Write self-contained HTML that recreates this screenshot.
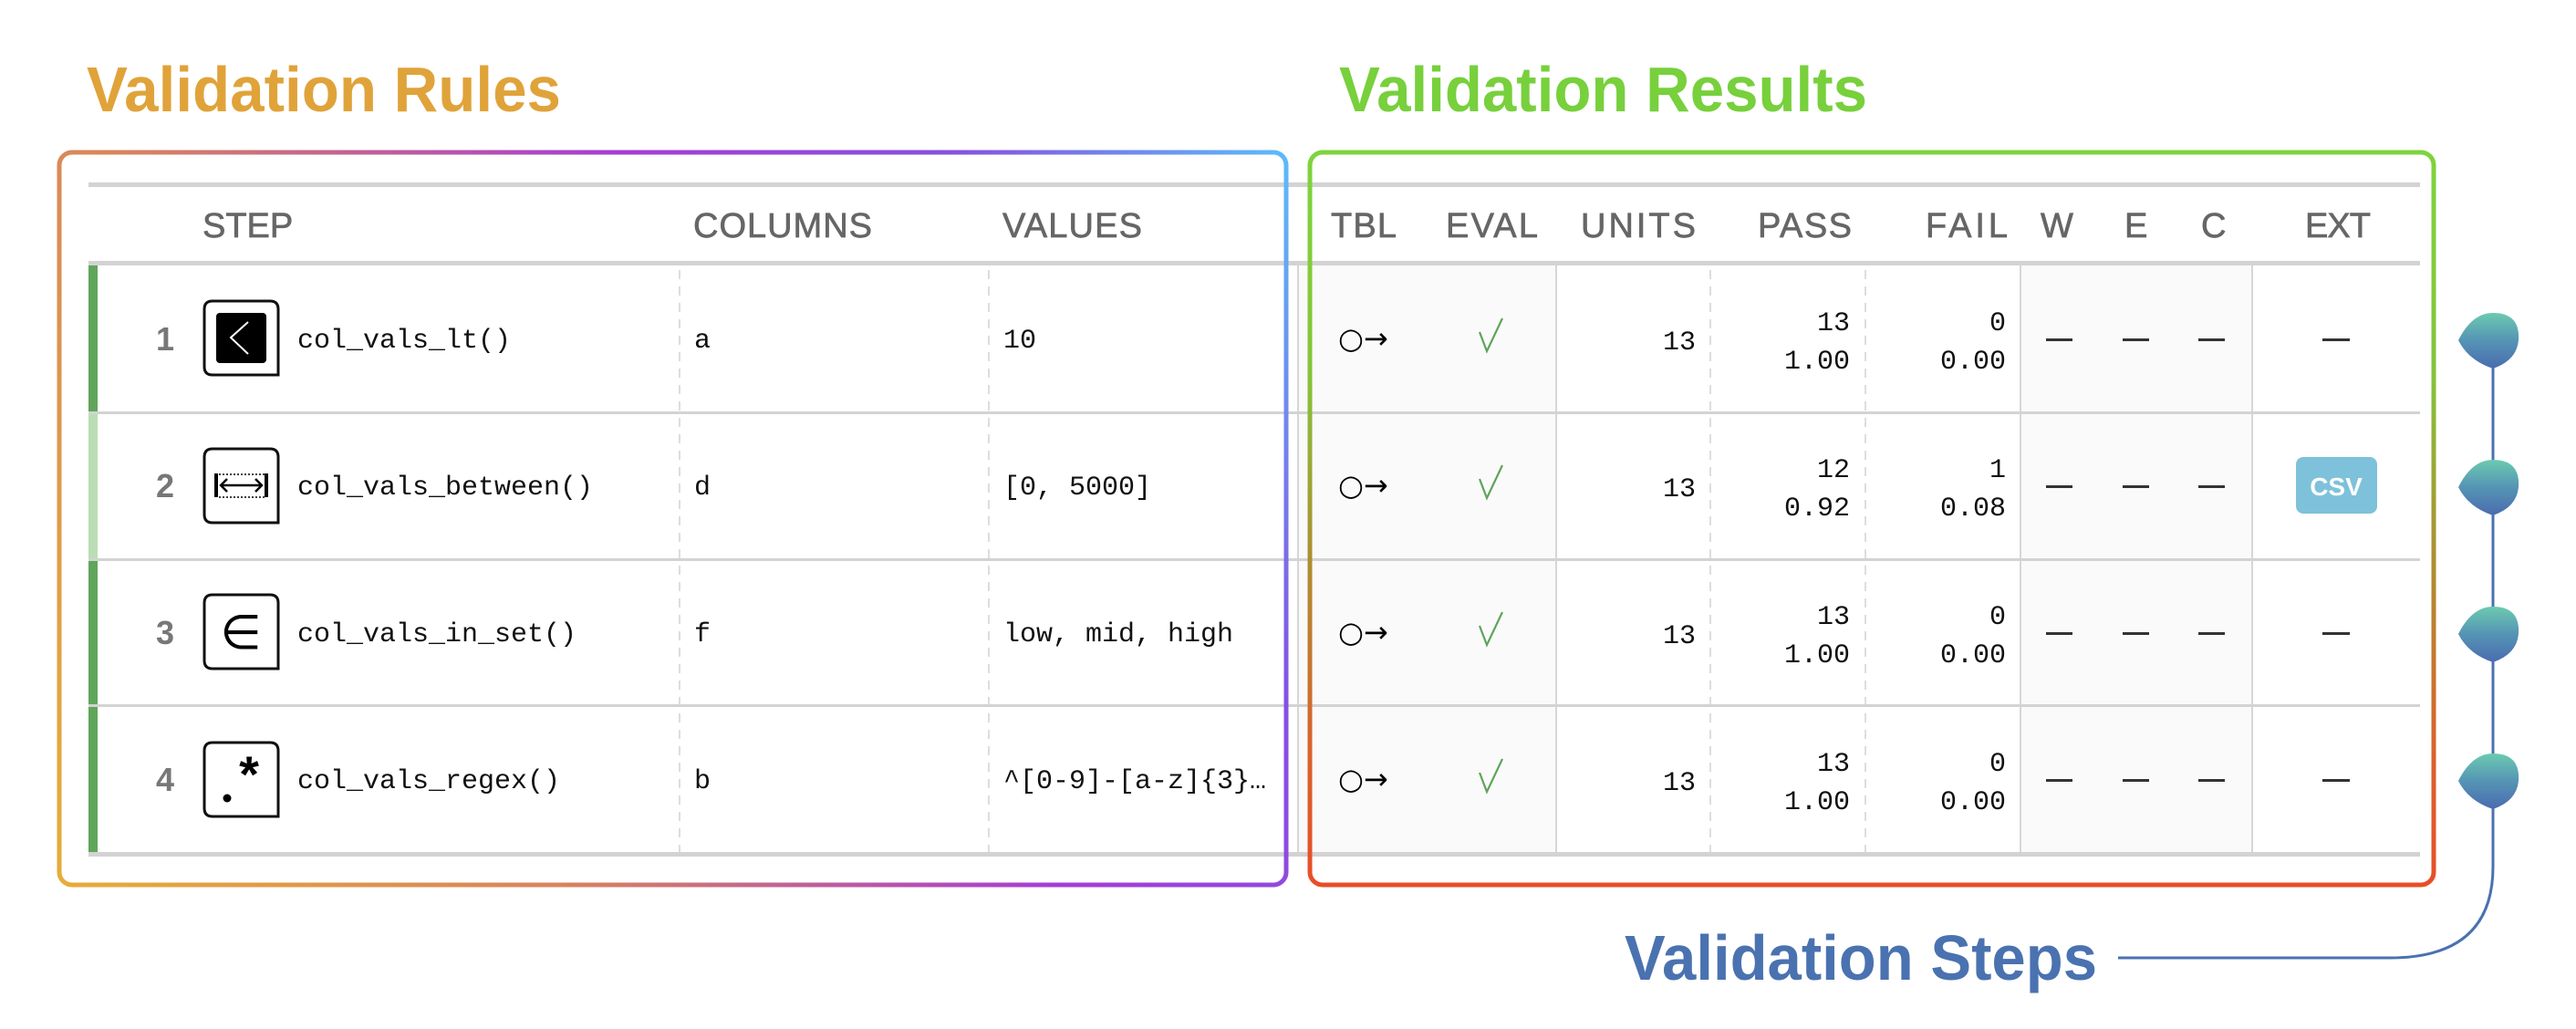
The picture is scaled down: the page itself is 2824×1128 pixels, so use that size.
<!DOCTYPE html>
<html><head><meta charset="utf-8"><style>html,body{margin:0;padding:0;background:#fff}svg{display:block}</style></head>
<body>
<svg xmlns="http://www.w3.org/2000/svg" width="2824" height="1128" viewBox="0 0 2824 1128">
<defs>
<linearGradient id="gr" gradientUnits="userSpaceOnUse" x1="65" y1="971" x2="1410" y2="165">
<stop offset="0" stop-color="#E8AC38"/><stop offset="0.3" stop-color="#D8845C"/><stop offset="0.6" stop-color="#A63CD6"/><stop offset="0.8" stop-color="#8650E2"/><stop offset="1" stop-color="#5CBCF8"/>
</linearGradient>
<linearGradient id="gg" x1="0" y1="0" x2="0" y2="1">
<stop offset="0" stop-color="#7ED43C"/><stop offset="0.3" stop-color="#84C43A"/><stop offset="0.55" stop-color="#AC9032"/><stop offset="0.8" stop-color="#D8642C"/><stop offset="1" stop-color="#E84E28"/>
</linearGradient>
<linearGradient id="gm" x1="0" y1="0" x2="0" y2="1">
<stop offset="0" stop-color="#6CCAB0"/><stop offset="0.5" stop-color="#5594B4"/><stop offset="1" stop-color="#4A6CB0"/>
</linearGradient>
</defs>

<!-- titles -->
<g font-family="Liberation Sans, sans-serif" font-weight="bold" font-size="70">
<text x="95" y="122" fill="#E0A33A" textLength="520" lengthAdjust="spacingAndGlyphs">Validation Rules</text>
<text x="1468" y="122" fill="#77D03C" textLength="579" lengthAdjust="spacingAndGlyphs">Validation Results</text>
<text x="1781" y="1074" fill="#4A72B0" textLength="518" lengthAdjust="spacingAndGlyphs">Validation Steps</text>
</g>

<!-- light backgrounds -->
<rect x="1423" y="291" width="283" height="643" fill="#FAFAFA"/>
<rect x="2215" y="291" width="254" height="643" fill="#FAFAFA"/>

<!-- vertical separators -->
<g stroke="#DDDDDD" stroke-width="2" stroke-dasharray="10,8">
<line x1="745" y1="296" x2="745" y2="934"/>
<line x1="1084" y1="296" x2="1084" y2="934"/>
<line x1="1875" y1="296" x2="1875" y2="934"/>
<line x1="2045" y1="296" x2="2045" y2="934"/>
</g>
<g stroke="#D6D6D6" stroke-width="2">
<line x1="1423" y1="291" x2="1423" y2="934"/>
<line x1="1706" y1="291" x2="1706" y2="934"/>
<line x1="2215" y1="291" x2="2215" y2="934"/>
<line x1="2469" y1="291" x2="2469" y2="934"/>
</g>

<!-- horizontal lines -->
<rect x="97" y="200" width="2556" height="5" fill="#D3D3D3"/>
<rect x="97" y="286" width="2556" height="5" fill="#D3D3D3"/>
<rect x="97" y="451" width="2556" height="3" fill="#D3D3D3"/>
<rect x="97" y="612" width="2556" height="3" fill="#D3D3D3"/>
<rect x="97" y="772" width="2556" height="3" fill="#D3D3D3"/>
<rect x="97" y="934" width="2556" height="5" fill="#D3D3D3"/>

<!-- left status bars -->
<rect x="97" y="291" width="10" height="160" fill="#60A65A"/>
<rect x="97" y="454" width="10" height="158" fill="#BADDB5"/>
<rect x="97" y="615" width="10" height="157" fill="#60A65A"/>
<rect x="97" y="775" width="10" height="159" fill="#60A65A"/>

<!-- headers -->
<g font-family="Liberation Sans, sans-serif" font-size="38" fill="#666" stroke="#666" stroke-width="0.7">
<text x="222" y="260">STEP</text>
<text x="760" y="260" textLength="196">COLUMNS</text>
<text x="1099" y="260" textLength="153">VALUES</text>
<text x="1459" y="260" textLength="72">TBL</text>
<text x="1585" y="260" textLength="101">EVAL</text>
<text x="1733" y="260" textLength="126">UNITS</text>
<text x="1927" y="260" textLength="103">PASS</text>
<text x="2111" y="260" textLength="90">FAIL</text>
<text x="2237" y="260">W</text>
<text x="2329" y="260">E</text>
<text x="2413" y="260">C</text>
<text x="2527" y="260" textLength="72">EXT</text>
</g>

<!-- step numbers -->
<g font-family="Liberation Sans, sans-serif" font-size="36" font-weight="bold" fill="#777" text-anchor="middle">
<text x="181" y="384">1</text>
<text x="181" y="545">2</text>
<text x="181" y="706">3</text>
<text x="181" y="867">4</text>
</g>

<!-- icons -->
<g fill="#fff" stroke="#111" stroke-width="3">
<path d="M233,330 H296 Q305,330 305,339 V411 H233 Q224,411 224,402 V339 Q224,330 233,330 Z"/>
<path d="M233,492 H296 Q305,492 305,501 V573 H233 Q224,573 224,564 V501 Q224,492 233,492 Z"/>
<path d="M233,652 H296 Q305,652 305,661 V733 H233 Q224,733 224,724 V661 Q224,652 233,652 Z"/>
<path d="M233,814 H296 Q305,814 305,823 V895 H233 Q224,895 224,886 V823 Q224,814 233,814 Z"/>
</g>
<rect x="237" y="343" width="55" height="55" rx="4" fill="#000"/>
<polyline points="272,353 253,370 272,388" fill="none" stroke="#fff" stroke-width="2"/>
<g stroke="#000">
<line x1="237" y1="519" x2="237" y2="545" stroke-width="4"/>
<line x1="292" y1="519" x2="292" y2="545" stroke-width="4"/>
<line x1="240" y1="520" x2="290" y2="520" stroke-width="1.5" stroke-dasharray="2,2"/>
<line x1="240" y1="545" x2="290" y2="545" stroke-width="1.5" stroke-dasharray="2,2"/>
<line x1="242" y1="532" x2="287" y2="532" stroke-width="2.5"/>
<polyline points="249,525 242,532 249,539" fill="none" stroke-width="2.5"/>
<polyline points="280,525 287,532 280,539" fill="none" stroke-width="2.5"/>
</g>
<text x="264" y="711" font-family="DejaVu Sans, sans-serif" font-size="52" text-anchor="middle" fill="#000">∈</text>
<text x="273" y="868" font-family="Liberation Sans, sans-serif" font-size="56" font-weight="bold" text-anchor="middle" fill="#000">*</text>
<circle cx="249" cy="875" r="4.5" fill="#000"/>

<!-- mono text -->
<g font-family="Liberation Mono, monospace" font-size="30" fill="#111">
<text x="326" y="381">col_vals_lt()</text>
<text x="326" y="542">col_vals_between()</text>
<text x="326" y="703">col_vals_in_set()</text>
<text x="326" y="864">col_vals_regex()</text>
<text x="761" y="381">a</text>
<text x="761" y="542">d</text>
<text x="761" y="703">f</text>
<text x="761" y="864">b</text>
<text x="1100" y="381">10</text>
<text x="1100" y="542">[0, 5000]</text>
<text x="1100" y="703">low, mid, high</text>
<text x="1100" y="864">^[0-9]-[a-z]{3}…</text>
</g>

<!-- results -->
<g font-family="DejaVu Sans, sans-serif" font-size="32" fill="#000">
<text x="1467" y="382">○→</text>
<text x="1467" y="543">○→</text>
<text x="1467" y="704">○→</text>
<text x="1467" y="865">○→</text>
</g>
<g fill="none" stroke="#5FA45A" stroke-width="2.2">
<polyline points="1622,364 1630,385 1647,349"/>
<polyline points="1622,525 1630,546 1647,510"/>
<polyline points="1622,686 1630,707 1647,671"/>
<polyline points="1622,847 1630,868 1647,832"/>
</g>
<g font-family="Liberation Mono, monospace" font-size="30" fill="#111" text-anchor="end">
<text x="1859" y="383">13</text>
<text x="1859" y="544">13</text>
<text x="1859" y="705">13</text>
<text x="1859" y="866">13</text>
<text x="2028" y="362">13</text><text x="2028" y="404">1.00</text>
<text x="2028" y="523">12</text><text x="2028" y="565">0.92</text>
<text x="2028" y="684">13</text><text x="2028" y="726">1.00</text>
<text x="2028" y="845">13</text><text x="2028" y="887">1.00</text>
<text x="2199" y="362">0</text><text x="2199" y="404">0.00</text>
<text x="2199" y="523">1</text><text x="2199" y="565">0.08</text>
<text x="2199" y="684">0</text><text x="2199" y="726">0.00</text>
<text x="2199" y="845">0</text><text x="2199" y="887">0.00</text>
</g>
<g fill="#333">
<rect x="2243" y="371" width="29" height="3"/><rect x="2327" y="371" width="29" height="3"/><rect x="2410" y="371" width="29" height="3"/><rect x="2546" y="371" width="30" height="3"/>
<rect x="2243" y="532" width="29" height="3"/><rect x="2327" y="532" width="29" height="3"/><rect x="2410" y="532" width="29" height="3"/>
<rect x="2243" y="693" width="29" height="3"/><rect x="2327" y="693" width="29" height="3"/><rect x="2410" y="693" width="29" height="3"/><rect x="2546" y="693" width="30" height="3"/>
<rect x="2243" y="854" width="29" height="3"/><rect x="2327" y="854" width="29" height="3"/><rect x="2410" y="854" width="29" height="3"/><rect x="2546" y="854" width="30" height="3"/>
</g>
<rect x="2517" y="501" width="89" height="62" rx="8" fill="#7EC1DB"/>
<text x="2561" y="543" font-family="Liberation Sans, sans-serif" font-weight="bold" font-size="28" fill="#fff" text-anchor="middle">CSV</text>

<!-- boxes -->
<rect x="65" y="167" width="1345" height="803" rx="14" fill="none" stroke="url(#gr)" stroke-width="5"/>
<rect x="1436" y="167" width="1232" height="803" rx="14" fill="none" stroke="url(#gg)" stroke-width="5"/>

<!-- step connector -->
<path d="M2733,373 V950 Q2733,1050 2620,1050 H2322" fill="none" stroke="#4A72B0" stroke-width="3"/>
<g fill="url(#gm)">
<path d="M2695,373 Q2710,343 2733,343 Q2763,343 2761,373 Q2759,395 2733,404 Q2706,395 2695,373 Z"/>
<path d="M2695,534 Q2710,504 2733,504 Q2763,504 2761,534 Q2759,556 2733,565 Q2706,556 2695,534 Z"/>
<path d="M2695,695 Q2710,665 2733,665 Q2763,665 2761,695 Q2759,717 2733,726 Q2706,717 2695,695 Z"/>
<path d="M2695,856 Q2710,826 2733,826 Q2763,826 2761,856 Q2759,878 2733,887 Q2706,878 2695,856 Z"/>
</g>
</svg>
</body></html>
